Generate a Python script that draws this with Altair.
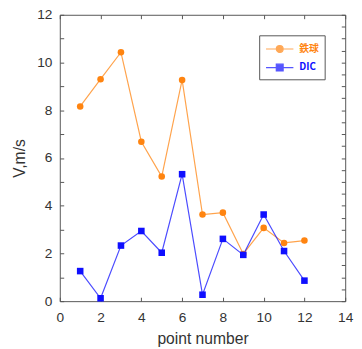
import altair as alt
import pandas as pd

point_number = [1, 2, 3, 4, 5, 6, 7, 8, 9, 10, 11, 12]
tekkyu = [8.16, 9.30, 10.43, 6.68, 5.22, 9.27, 3.63, 3.71, 1.98, 3.07, 2.44, 2.54]
dic = [1.26, 0.12, 2.33, 2.94, 2.03, 5.32, 0.27, 2.61, 1.94, 3.63, 2.10, 0.86]
series_names = ["鉄球", "DIC"]
series_colors = ["#ff8410", "#0f0fff"]
x_ticks = [0, 2, 4, 6, 8, 10, 12, 14]
y_ticks = [0, 0.5, 1, 1.5, 2, 2.5, 3, 3.5, 4, 4.5, 5, 5.5, 6, 6.5, 7, 7.5, 8,
           8.5, 9, 9.5, 10, 10.5, 11, 11.5, 12]

df = pd.DataFrame({
    "point": point_number * 2,
    "V": tekkyu + dic,
    "series": [series_names[0]] * len(tekkyu) + [series_names[1]] * len(dic),
})

FONT = "Liberation Sans"
TXT = "#333333"
FRAME = "#555555"

xscale = alt.Scale(domain=[0, 14], nice=False)
yscale = alt.Scale(domain=[0, 12], nice=False)
cscale = alt.Scale(domain=series_names, range=series_colors)

x_bottom = alt.Axis(orient="bottom", values=x_ticks, offset=-4, tickSize=4,
                    tickColor=FRAME, domain=False, grid=False, labelFlush=False,
                    format="d", labelPadding=10, labelFont=FONT, labelFontSize=14,
                    labelColor=TXT, title="point number", titleFont=FONT,
                    titleFontSize=16, titleFontWeight="normal", titleColor=TXT,
                    titlePadding=6)
x_top = alt.Axis(orient="top", values=x_ticks, offset=-4, tickSize=4,
                 tickColor=FRAME, domain=False, grid=False, labels=False, title=None)
y_left = alt.Axis(orient="left", values=y_ticks, offset=-4, tickSize=4,
                  tickColor=FRAME, domain=False, grid=False, format="d",
                  labelExpr="datum.value % 2 == 0 ? datum.label : ''",
                  labelPadding=8, labelFont=FONT, labelFontSize=14,
                  labelColor=TXT, title="V,m/s", titleFont=FONT,
                  titleFontSize=16, titleFontWeight="normal", titleColor=TXT,
                  titlePadding=10)
y_right = alt.Axis(orient="right", values=y_ticks, offset=-4, tickSize=4,
                   tickColor=FRAME, domain=False, grid=False, labels=False, title=None)

base = alt.Chart(df)

lines = base.mark_line(strokeWidth=1.2, opacity=0.75).encode(
    x=alt.X("point:Q", scale=xscale, axis=x_bottom),
    y=alt.Y("V:Q", scale=yscale, axis=y_left),
    color=alt.Color("series:N", scale=cscale, legend=None),
    detail="series:N",
)

points = base.mark_point(filled=True, size=45, opacity=1).encode(
    x=alt.X("point:Q", scale=xscale, axis=x_top),
    y=alt.Y("V:Q", scale=yscale, axis=y_right),
    color=alt.Color("series:N", scale=cscale, legend=None),
    shape=alt.Shape("series:N", scale=alt.Scale(domain=series_names,
                                                range=["circle", "square"]),
                    legend=None),
)

color_expr = (f"datum.value == '{series_names[1]}' ? '{series_colors[1]}' : "
              f"'{series_colors[0]}'")
# legend glyphs: a short line with the marker at its middle
circle_path = "M-1,0H3M1.5,0A0.5,0.5,0,1,1,0.5,0A0.5,0.5,0,1,1,1.5,0Z"
square_path = "M-1,0H3M0.5,-0.5H1.5V0.5H0.5Z"

legend_layer = base.transform_filter("false").mark_point(
    filled=True, fill=alt.ExprRef(color_expr), stroke=alt.ExprRef(color_expr),
    strokeWidth=1.2,
).encode(
    x=alt.X("point:Q", scale=xscale, axis=None),
    y=alt.Y("V:Q", scale=yscale, axis=None),
    shape=alt.Shape("series:N",
                    scale=alt.Scale(domain=series_names,
                                    range=[circle_path, square_path]),
                    legend=alt.Legend(title=None, orient="top-right", offset=21,
                                      padding=6, strokeColor=FRAME,
                                      fillColor="white", symbolSize=196,
                                      symbolStrokeWidth=1.2,
                                      labelColor=alt.ExprRef(color_expr),
                                      labelFont="Noto Sans CJK JP",
                                      labelFontSize=10, labelFontWeight="bold",
                                      labelOffset=19, rowPadding=5)),
)

chart = alt.layer(lines, points, legend_layer).resolve_axis(
    x="independent", y="independent"
).resolve_scale(shape="independent").properties(
    width=292, height=293, autosize="none",
    padding={"left": 53, "top": 3, "right": 9, "bottom": 45},
    background="white",
).configure_view(stroke=FRAME, strokeWidth=1)

chart.save("out.html", embed_options={"renderer": "svg", "actions": False})
